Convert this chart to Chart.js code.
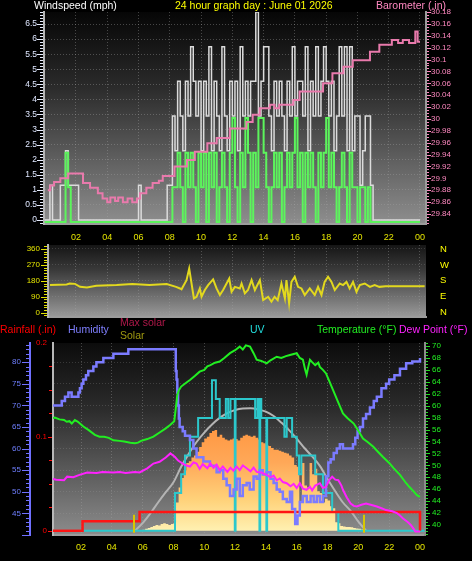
<!DOCTYPE html>
<html><head><meta charset="utf-8">
<script src="https://cdn.jsdelivr.net/npm/chart.js@4.4.1/dist/chart.umd.min.js"></script>
<style>
html,body{margin:0;padding:0;background:#000;}
#wrap{position:relative;width:472px;height:561px;background:#000;overflow:hidden;font-family:"Liberation Sans",Arial,sans-serif;}
canvas{position:absolute;}
.t{position:absolute;white-space:nowrap;font-size:10.5px;line-height:12px;}
</style></head><body>
<div id="wrap">
<canvas id="c1" style="left:0;top:0" width="472" height="245"></canvas>
<canvas id="c2" style="left:0;top:240px" width="472" height="80"></canvas>
<canvas id="c3" style="left:0;top:340px" width="472" height="221"></canvas>
<div class="t" style="left:34px;top:-1px;color:#ffffff">Windspeed (mph)</div>
<div class="t" style="left:175px;top:-1px;color:#ffff00">24 hour graph day : June 01 2026</div>
<div class="t" style="left:376px;top:-1px;color:#ff88c0">Barometer (.in)</div>
<div class="t" style="left:0px;top:323px;color:#ff0000">Rainfall (.in)</div>
<div class="t" style="left:68px;top:323px;color:#7f7fff">Humidity</div>
<div class="t" style="left:120px;top:316px;color:#b0184a">Max solar</div>
<div class="t" style="left:120px;top:329px;color:#a09a10">Solar</div>
<div class="t" style="left:250px;top:323px;color:#22dddd">UV</div>
<div class="t" style="left:317px;top:323px;color:#22ee22">Temperature (°F)</div>
<div class="t" style="left:399px;top:323px;color:#ff22ff">Dew Point (°F)</div>
</div>
<script>
// ---------- tick labels ----------
const hourTickValues = [2,4,6,8,10,12,14,16,18,20,22,24];
const hourTickLabels = ['02','04','06','08','10','12','14','16','18','20','22','00'];
const windTicks = [0,0.5,1,1.5,2,2.5,3,3.5,4,4.5,5,5.5,6,6.5];
const baroTicks = [29.84,29.86,29.88,29.9,29.92,29.94,29.96,29.98,30,30.02,30.04,30.06,30.08,30.1,30.12,30.14,30.16,30.18];
const dirTicks = [0,90,180,270,360];
const dirLetters = ['N','E','S','W','N'];
const humTicks = [45,50,55,60,65,70,75,80];
const rainTicks = [0,0.1,0.2];
const tempTicks = [40,42,44,46,48,50,52,54,56,58,60,62,64,66,68,70];

// ---------- wind (10 minute readings from 00:00) ----------
const windGust = [
 0,0,1.15,0,0,0, 1.15,1.15,2.3,1.15,1.15,1.15,1.15,
 0,0,0,0,0,0,0,0,0,0,0,0,0,0,0,0,0,0,0,0,0,0,0,
 1.15,
 0,0,0,0,0,0,0,0,0,0,
 1.15,1.15,
 3.45,2.3,4.6,3.45,2.3,4.6,3.45,5.75,4.6,3.45,4.6,
 2.3,4.6,3.45,5.75,2.3,4.6,3.45,2.3,5.75,3.45,
 2.3,4.6,3.45,4.6,2.3,5.75,3.45,4.6,3.45,4.6,
 4.6,6.9,3.45,4.6,5.75,5.75,3.45,2.3,4.6,3.45,
 4.6,3.45,2.3,4.6,3.45,5.75,3.45,4.6,4.6,3.45,
 5.75,2.3,4.6,3.45,5.75,3.45,4.6,5.75,4.6,3.45,
 4.6,2.3,3.45,5.75,3.45,5.75,2.3,5.75,2.3,3.45,
 3.45,1.15,2.3,3.45,3.45,1.15,0,
 0,0,0,0,0,0,0,0,0,0,0,0,0,0,0,0,0,0];
const windSpeed = [
 0,0,0,0,0,0,0,0, 2.3,1.15,
 0,0,0,0,0,0,0,0,0,0,0,0,0,0,0,0,0,0,0,0,0,0,0,0,0,0,0,0,0,0,0,0,0,0,0,0,0,0,0,
 1.15,1.15,2.3,1.15,0,2.3,1.15,2.3,1.15,0,2.3,
 1.15,2.3,0,2.3,1.15,2.3,0,1.15,2.3,1.15,
 0,2.3,3.45,1.15,0,2.3,1.15,3.45,2.3,0,
 2.3,1.15,3.45,3.45,2.3,1.15,0,1.15,2.3,1.15,
 2.3,0,1.15,2.3,1.15,2.3,3.45,1.15,2.3,0,
 2.3,1.15,2.3,1.15,0,2.3,1.15,2.3,3.45,1.15,
 2.3,1.15,0,1.15,2.3,1.15,0,2.3,1.15,1.15,
 0,1.15,1.15,0,1.15,0,0,
 0,0,0,0,0,0,0,0,0,0,0,0,0,0,0,0,0,0];

// ---------- barometer ----------
const baroHours = [0.2,0.35,0.6,1.0,1.5,2.45,2.9,3.4,3.7,4.0,4.2,4.5,4.7,5.0,5.3,5.6,5.9,6.1,6.5,6.9,7.3,7.55,8.3,9.1,9.6,10.4,11.0,11.84,12.9,13.3,13.75,14.4,14.7,15.0,15.9,16.3,17.8,18.4,19.1,19.7,20.8,21.4,22.2,22.6,22.9,23.3,23.7,23.85,24.0];
const baroValues = [29.880,29.888,29.894,29.900,29.908,29.892,29.884,29.875,29.866,29.860,29.868,29.862,29.868,29.860,29.866,29.860,29.866,29.875,29.884,29.892,29.896,29.904,29.920,29.931,29.945,29.959,29.968,29.984,29.995,30.007,30.018,30.024,30.018,30.024,30.032,30.046,30.060,30.077,30.088,30.099,30.113,30.125,30.133,30.128,30.133,30.128,30.147,30.130,30.130];

// ---------- wind direction ----------
const dirHours = [0.34,1.4,1.6,1.94,2.26,2.7,3.3,4.6,5.6,6.7,7.8,8.4,8.65,8.75,9.07,9.24,9.39,9.54,9.71,9.92,10.03,10.24,10.45,10.77,10.99,11.2,11.41,11.8,11.95,12.16,12.48,12.59,12.8,13.0,13.23,13.44,13.76,13.97,14.29,14.5,14.7,14.9,15.14,15.36,15.46,15.63,15.78,15.99,16.2,16.42,16.63,16.95,17.27,17.48,17.7,17.9,18.12,18.34,18.55,18.87,19.08,19.3,19.5,19.72,19.94,20.15,20.47,20.8,21.1,21.4,21.8,22.5,23.2,24.3];
const dirValues = [156,160,165,163,146,143,152,156,162,156,162,146,137,132,184,250,165,81,90,137,90,128,156,188,137,100,128,193,118,146,137,165,109,128,184,128,184,71,90,62,90,71,165,81,184,53,174,203,146,137,100,137,100,146,100,174,203,174,128,165,156,174,137,174,118,156,165,146,156,146,150,150,150,150];

// ---------- humidity ----------
const humHours = [0.0,0.75,0.96,1.18,1.39,1.83,1.93,2.04,2.15,2.32,2.47,2.8,3.0,3.45,4.1,5.07,8.05,8.15,8.2,8.25,8.3,8.35,8.4,8.6,8.75,9.07,9.29,9.5,9.7,9.94,10.15,10.37,10.6,10.8,11.0,11.23,11.45,11.67,11.9,12.1,12.3,12.5,12.75,12.95,13.2,13.4,13.6,13.8,14.05,14.3,14.5,14.7,14.9,15.1,15.35,15.56,15.7,15.9,16.05,16.2,16.4,16.65,16.9,17.1,17.3,17.5,17.7,17.9,18.05,18.2,18.4,18.6,18.8,19.0,19.45,19.65,19.8,19.95,20.1,20.3,20.5,20.75,21.0,21.2,21.5,21.8,22.0,22.34,22.7,23.1,23.5,24.0];
const humValues = [70,71,72,73,72,73,74,75,76,77,78,79,80,81,82,83,83,78,76,73,70,67,65,64,63,62,60,58,58,57,57,56,56,54.5,55,53,51.5,49,50.5,53,49,51.5,52,50.5,53.5,53,55,54,54.5,53,52,50.5,50,48.3,47.6,50,46,42.5,44.5,47.6,49,47.6,49,47.6,49,47.6,49,53.6,56.8,57.5,59,60,61,60,60,61,62.5,64,65,67,68,69.5,71,72,74,75,76,77,78.5,79.8,80.2,81];

// ---------- temperature ----------
const tempHours = [0.0,0.3,0.6,0.9,1.07,1.25,1.4,1.6,1.8,2.15,2.5,2.9,3.2,3.5,3.8,4.1,4.5,4.8,5.2,5.5,5.7,5.9,6.3,6.7,7.1,7.5,7.8,8.05,8.15,8.25,8.35,8.5,8.8,9.07,9.4,9.7,10.0,10.2,10.4,10.7,11.0,11.3,11.67,12.0,12.3,12.5,12.7,12.97,13.2,13.4,13.7,14.05,14.3,14.7,15.0,15.3,15.56,16.0,16.2,16.4,16.55,16.64,16.75,16.86,17.0,17.2,17.4,17.5,17.7,17.9,18.1,18.36,18.7,19.0,19.3,19.7,20.0,20.3,20.6,20.97,21.3,21.6,22.0,22.3,22.7,23.1,23.3,23.6,23.8,24.0];
const tempValues = [57.8,58.0,57.7,57.6,57.3,57.4,57.0,57.6,57.3,56.5,55.9,55.1,54.8,54.8,54.6,54.2,54.1,54.0,53.8,53.7,53.8,54.1,54.4,54.8,55.5,56.2,56.8,57.4,59.5,61.8,62.6,63.2,63.8,64.3,65.0,65.7,66.0,66.6,66.8,67.2,67.4,68.0,68.8,69.3,69.9,69.4,70.1,69.9,68.8,67.7,67.5,67.1,67.6,68.2,68.0,68.3,68.5,68.8,68.0,67.7,66.0,65.2,66.5,67.7,67.3,66.8,67.2,66.5,66.0,65.4,64.2,62.6,60.5,58.7,57.9,57.0,55.8,54.5,53.9,53.1,52.2,51.4,50.4,49.5,48.4,47.0,46.4,45.6,45.0,44.7];

// ---------- dew point ----------
const dewHours = [0.0,0.4,0.9,1.1,1.5,1.9,2.4,3.0,3.4,4.1,4.5,4.9,5.5,5.8,6.3,6.7,7.1,7.5,7.8,8.1,8.3,8.6,8.8,9.07,9.3,9.5,9.7,9.9,10.2,10.4,10.6,10.8,11.0,11.2,11.5,11.7,11.9,12.1,12.3,12.5,12.75,13.0,13.2,13.4,13.7,14.05,14.3,14.5,14.7,14.9,15.1,15.35,15.6,15.8,16.0,16.2,16.4,16.64,16.86,17.0,17.2,17.5,17.7,17.9,18.1,18.3,18.5,18.7,18.9,19.0,19.25,19.5,19.7,19.9,20.2,20.5,20.8,21.2,21.5,21.8,22.2,22.5,22.7,22.9,23.2,23.4,23.6,23.7,24.0];
const dewValues = [47.8,47.6,47.5,48.1,48.0,48.4,48.8,48.7,48.9,48.8,48.9,48.7,48.9,48.8,49.5,50.3,50.6,51.3,52.0,51.4,50.8,50.3,50.0,49.8,50.5,50.3,49.4,50.2,49.5,50.3,49.6,50.1,49.2,49.8,48.9,49.6,49.1,49.8,49.2,50.0,49.5,49.0,49.6,48.9,48.8,48.4,48.0,48.3,47.5,47.8,47.2,47.0,46.5,46.9,46.2,47.0,46.1,45.9,46.4,45.8,46.6,47.0,46.2,46.4,47.5,48.1,47.6,47.5,46.6,45.9,44.6,43.6,43.2,43.1,43.4,43.6,43.4,43.1,42.8,42.5,42.3,42.0,41.6,41.1,40.5,40.0,39.3,38.9,38.9];

// ---------- UV index ----------
const uvHours = [0,8.1,8.5,8.75,9.07,9.6,10.5,10.75,11.0,11.4,11.55,11.7,11.98,12.03,13.3,13.45,13.58,13.63,13.7,14.03,14.08,15.2,15.35,15.7,16.0,16.15,16.3,17.2,17.7,18.3,18.7,24.3];
const uvValues = [0,2,3,4,5,6,8,7,6,7,6,7,0,7,6,7,0,7,6,0,6,5,6,5,4,3,4,3,2,1,0,0];

// ---------- rainfall ----------
const rainHours = [0,2.1,5.8,24.0];
const rainValues = [0,0.01,0.02,0];

// ---------- solar (W/m2, 10 minute readings from 06:00) ----------
const solarValues = [5,10,15,20,25,30, 28,35,40,35,30,35, 40,150,230,280,320,360, 370,390,400,420,445,470,
 490,500,520,530,536,500, 510,495,485,480,485,490, 488,480,495,505,510,505, 500,505,495,485,470,465,
 455,450,440,430,430,425, 420,415,410,400,390,350, 340,150,360,240,230,360, 300,330,210,200,150,170,
 160,130,120,45,40,25, 22,20,20,18,15,12, 10,6,3,0];
const maxSolarHours = [5.5,6,6.5,7,7.5,8,8.5,9,9.5,10,10.5,11,11.5,12,12.5,13,13.5,14,14.5,15,15.5,16,16.5,17,17.5,18,18.5,19,19.5,20,20.5];
const maxSolarValues = [0,40,92,150,205,258,340,410,472,522,565,600,625,642,650,651,645,633,610,575,535,490,440,395,345,275,210,150,105,48,0];
const sunMarkHours = [5.45,20.35];

// ---------- helpers ----------
const xy = (xs, ys) => xs.map((x, i) => ({x: x, y: ys[i]}));
const windHours = windGust.map((_, i) => i / 6);
const solarHours = solarValues.map((_, i) => 6 + i / 6);
const gridCol = 'rgba(165,165,165,0.38)';

Chart.defaults.font.family = '"Liberation Sans", Arial, sans-serif';
Chart.defaults.animation = false;

const panelBg = {
  id: 'panelBg',
  beforeDraw(chart, args, o) {
    const ctx = chart.ctx, a = chart.chartArea;
    ctx.save();
    ctx.fillStyle = '#000';
    ctx.fillRect(0, 0, chart.width, chart.height);
    const g = ctx.createLinearGradient(0, a.top, 0, a.bottom);
    g.addColorStop(0, o.top); g.addColorStop(0.35, o.mid); g.addColorStop(1, o.bottom);
    ctx.fillStyle = g;
    ctx.fillRect(a.left, a.top, a.right - a.left, a.bottom - a.top);
    ctx.restore();
  }
};
const tickMarks = {
  id: 'tickMarks',
  afterDraw(chart, args, o) {
    const ctx = chart.ctx;
    (o.list || []).forEach(t => {
      const s = chart.scales[t.id];
      ctx.save(); ctx.strokeStyle = t.color; ctx.lineWidth = 1;
      const n0 = Math.ceil((s.min - 1e-9) / t.step), n1 = Math.floor((s.max + 1e-9) / t.step);
      for (let n = n0; n <= n1; n++) {
        const v = n * t.step;
        const r = v / t.major;
        const len = Math.abs(r - Math.round(r)) < 1e-6 ? t.majorLen : t.minorLen;
        const p = Math.round(s.getPixelForValue(v)) + 0.5;
        ctx.beginPath();
        if (s.position === 'left') { ctx.moveTo(s.right - 1 - len, p); ctx.lineTo(s.right - 1, p); }
        else { ctx.moveTo(s.left + 1, p); ctx.lineTo(s.left + 1 + len, p); }
        ctx.stroke();
      }
      ctx.restore();
    });
  }
};
const shiftPlugin = {
  id: 'shiftPlugin',
  beforeDatasetDraw(chart, args) {
    const ds = chart.data.datasets[args.index];
    if (ds.yShift) { chart.ctx.save(); chart.ctx.translate(0, ds.yShift); }
  },
  afterDatasetDraw(chart, args) {
    const ds = chart.data.datasets[args.index];
    if (ds.yShift) chart.ctx.restore();
  }
};
const sunMarks = {
  id: 'sunMarks',
  afterDatasetsDraw(chart) {
    const ctx = chart.ctx, xs = chart.scales.x, ys = chart.scales.yR;
    const y0 = ys.getPixelForValue(0);
    ctx.save(); ctx.strokeStyle = '#d8c800'; ctx.lineWidth = 2;
    sunMarkHours.forEach(h => {
      const px = Math.round(xs.getPixelForValue(h));
      ctx.beginPath(); ctx.moveTo(px, y0 + 2); ctx.lineTo(px, y0 - 16); ctx.stroke();
    });
    ctx.restore();
  }
};

function setTicks(list) { return s => { s.ticks = list.map(v => ({value: v})); }; }
function fitW(w) { return s => { s.width = w; s.paddingTop = 0; s.paddingBottom = 0; }; }
function fitH(h) { return s => { s.height = h; s.paddingLeft = 0; s.paddingRight = 0; }; }
function hourAxis(min, max, height, showLabels, pad) {
  return {
    type: 'linear', position: 'bottom', min: min, max: max,
    afterBuildTicks: setTicks(hourTickValues),
    afterFit: fitH(height),
    ticks: { display: showLabels, color: '#e4e400', font: {size: 9}, padding: pad, maxRotation: 0, autoSkip: false,
             callback: v => hourTickLabels[hourTickValues.indexOf(v)] },
    grid: { color: gridCol, drawTicks: false, lineWidth: 1 },
    border: { display: true, color: '#9c9c9c', width: 2, dash: [1, 2] }
  };
}
const line = (extra) => Object.assign({ pointRadius: 0, borderJoinStyle: 'miter', fill: false, tension: 0 }, extra);

// ---------- top: wind speed & barometer ----------
new Chart(document.getElementById('c1'), {
  type: 'line',
  data: { datasets: [
    line({ data: xy(baroHours, baroValues), yAxisID: 'yB', borderColor: '#e97aac', borderWidth: 2, stepped: 'before' }),
    line({ data: xy(windHours, windSpeed), yAxisID: 'y', borderColor: '#5cf55c', borderWidth: 2, stepped: 'before', yShift: 2 }),
    line({ data: xy(windHours, windGust), yAxisID: 'y', borderColor: '#dcdcdc', borderWidth: 1.5, stepped: 'before' })
  ]},
  options: {
    responsive: false, animation: false, events: [],
    layout: { padding: { top: 12, left: 0, right: 0, bottom: 0 } },
    plugins: { legend: {display: false}, tooltip: {enabled: false},
      panelBg: { top: '#060606', mid: '#2a2a2a', bottom: '#8e8e8e' },
      tickMarks: { list: [
        { id: 'y', step: 0.1, major: 0.5, minorLen: 3, majorLen: 6, color: '#e8eeff' },
        { id: 'yB', step: 0.005, major: 0.02, minorLen: 2, majorLen: 4, color: '#ff88c0' } ] } },
    scales: {
      x: hourAxis(-0.0448, 24.384, 21, true, 8),
      y: { type: 'linear', position: 'left', min: -0.133, max: 6.9,
        afterBuildTicks: setTicks(windTicks), afterFit: fitW(44),
        ticks: { color: '#dfe7ff', font: {size: 8.5}, padding: 7, autoSkip: false, callback: v => String(v) },
        grid: { color: gridCol, drawTicks: false },
        border: { display: true, color: '#b4b4b4', width: 2, dash: [1, 2] } },
      yB: { type: 'linear', position: 'right', min: 29.8232, max: 30.180,
        afterBuildTicks: setTicks(baroTicks), afterFit: fitW(46),
        ticks: { color: '#ff88c0', font: {size: 8}, padding: 5, autoSkip: false, callback: v => String(v) },
        grid: { drawOnChartArea: false, drawTicks: false },
        border: { display: true, color: '#9c9c9c', width: 2 } }
    }
  },
  plugins: [panelBg, tickMarks, shiftPlugin]
});

// ---------- middle: wind direction ----------
new Chart(document.getElementById('c2'), {
  type: 'line',
  data: { datasets: [
    line({ data: xy(dirHours, dirValues), yAxisID: 'y', borderColor: '#e2d81e', borderWidth: 2 })
  ]},
  options: {
    responsive: false, animation: false, events: [],
    layout: { padding: { top: 5, left: 0, right: 0, bottom: 3 } },
    plugins: { legend: {display: false}, tooltip: {enabled: false},
      panelBg: { top: '#151515', mid: '#3a3a3a', bottom: '#9a9a9a' },
      tickMarks: { list: [ { id: 'y', step: 15, major: 90, minorLen: 3, majorLen: 6, color: '#e4e400' } ] } },
    scales: {
      x: hourAxis(0.211, 24.384, 0, false, 0),
      y: { type: 'linear', position: 'left', min: -24.3, max: 382.6,
        afterBuildTicks: setTicks(dirTicks), afterFit: fitW(48),
        ticks: { color: '#e4e400', font: {size: 8}, padding: 8, autoSkip: false, callback: v => String(v) },
        grid: { color: 'rgba(165,165,165,0.25)', drawTicks: false },
        border: { display: true, color: '#b4b4b4', width: 2, dash: [1, 2] } },
      yL: { type: 'linear', position: 'right', min: -24.3, max: 382.6,
        afterBuildTicks: setTicks(dirTicks), afterFit: fitW(46),
        ticks: { color: '#ffff00', font: {size: 9.5}, padding: 14, autoSkip: false,
                 callback: v => dirLetters[dirTicks.indexOf(v)] },
        grid: { drawOnChartArea: false, drawTicks: false },
        border: { display: false } }
    }
  },
  plugins: [panelBg, tickMarks]
});

// ---------- bottom: rain, humidity, solar, UV, temperature, dew point ----------
const rainMin = -0.00457, rainMax = 0.19968;
new Chart(document.getElementById('c3'), {
  type: 'line',
  data: { datasets: [
    line({ data: xy(tempHours, tempValues), yAxisID: 'yT', borderColor: '#22ee22', borderWidth: 2 }),
    line({ data: xy(dewHours, dewValues), yAxisID: 'yT', borderColor: '#ff22ff', borderWidth: 2 }),
    line({ data: xy(humHours, humValues), yAxisID: 'yH', borderColor: '#7b7bff', borderWidth: 2.5, stepped: 'before' }),
    line({ data: xy(rainHours, rainValues), yAxisID: 'yR', borderColor: '#ff1414', borderWidth: 2.5, stepped: 'before' }),
    line({ data: xy(uvHours, uvValues), yAxisID: 'yU', borderColor: '#2cc8cc', borderWidth: 2, stepped: 'before' }),
    line({ data: xy(maxSolarHours, maxSolarValues), yAxisID: 'yS', borderColor: '#b4b4b4', borderWidth: 2, cubicInterpolationMode: 'monotone' }),
    line({ data: xy(solarHours, solarValues), yAxisID: 'yS', borderWidth: 0, borderColor: 'rgba(0,0,0,0)', stepped: 'before',
      fill: 'origin',
      backgroundColor: (c) => {
        const ch = c.chart, a = ch.chartArea;
        if (!a) return '#ffb060';
        const g = ch.ctx.createLinearGradient(0, a.bottom - 110, 0, a.bottom - 3);
        g.addColorStop(0, '#ff9640'); g.addColorStop(0.35, '#ffa858');
        g.addColorStop(0.7, '#ffd27a'); g.addColorStop(1, '#fff2b4');
        return g;
      } })
  ]},
  options: {
    responsive: false, animation: false, events: [],
    layout: { padding: { top: 3, left: 0, right: 0, bottom: 0 } },
    plugins: { legend: {display: false}, tooltip: {enabled: false},
      panelBg: { top: '#0c0c0c', mid: '#2c2c2c', bottom: '#8c8c8c' },
      tickMarks: { list: [
        { id: 'yH', step: 1, major: 5, minorLen: 3, majorLen: 7, color: '#7070ff' },
        { id: 'yR', step: 0.025, major: 0.1, minorLen: 3, majorLen: 4, color: '#ff1010' },
        { id: 'yT', step: 0.5, major: 2, minorLen: 2, majorLen: 4, color: '#22dd22' } ] } },
    scales: {
      x: hourAxis(0.1817, 24.325, 26, true, 7),
      yH: { type: 'linear', position: 'left', weight: 2, min: 39.97, max: 84.47,
        afterBuildTicks: setTicks(humTicks), afterFit: fitW(30),
        ticks: { color: '#6f7fff', font: {size: 8}, padding: 9, autoSkip: false, callback: v => String(v) },
        grid: { color: 'rgba(165,165,165,0.25)', drawTicks: false },
        border: { display: true, color: '#7070ff', width: 2, dash: [1, 2] } },
      yR: { type: 'linear', position: 'left', weight: 1, min: rainMin, max: rainMax,
        afterBuildTicks: setTicks(rainTicks), afterFit: fitW(23),
        ticks: { color: '#ff0000', font: {size: 8}, padding: 6, autoSkip: false, callback: v => String(v) },
        grid: { drawOnChartArea: false, drawTicks: false },
        border: { display: true, color: '#b8b8b8', width: 2 } },
      yU: { type: 'linear', display: false, min: rainMin * 50, max: rainMax * 50 },
      yS: { type: 'linear', display: false, min: rainMin * 5000, max: rainMax * 5000 },
      yT: { type: 'linear', position: 'right', min: 38.324, max: 70.503,
        afterBuildTicks: setTicks(tempTicks), afterFit: fitW(47),
        ticks: { color: '#22ee22', font: {size: 8}, padding: 7, autoSkip: false, callback: v => String(v) },
        grid: { drawOnChartArea: false, drawTicks: false },
        border: { display: true, color: '#8c8c8c', width: 2 } }
    }
  },
  plugins: [panelBg, tickMarks, sunMarks]
});
</script>
</body></html>
